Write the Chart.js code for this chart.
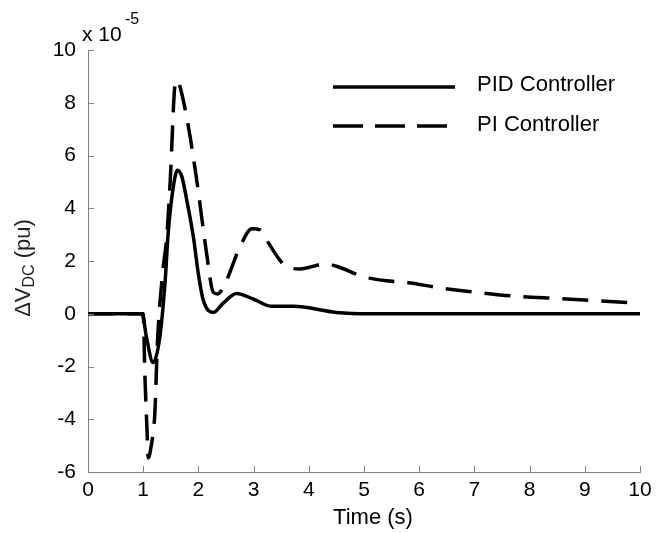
<!DOCTYPE html>
<html>
<head>
<meta charset="utf-8">
<script src="https://cdn.jsdelivr.net/npm/chart.js@4/dist/chart.umd.min.js"></script>
<style>
  html, body { margin: 0; padding: 0; background: #fff; }
  #wrap { width: 658px; height: 533px; }
</style>
</head>
<body>
<div id="wrap"><canvas id="dvChart" width="658" height="533"></canvas></div>
<script>
// values (x 1e-5 pu)
var pidTime = [0, 0.98, 1.06, 1.18, 1.30, 1.40, 1.45, 1.55, 1.62, 1.70, 1.79, 1.91, 2.00, 2.09, 2.27, 2.45, 2.69, 3.00, 3.33, 3.72, 4.50, 5.10, 5.80, 10];
var pidValue = [0, 0, -0.9, -1.85, -0.9, 1.3, 3.0, 4.87, 5.44, 5.2, 4.3, 2.9, 1.5, 0.5, 0.05, 0.4, 0.77, 0.55, 0.28, 0.28, 0.05, 0, 0, 0];

var piTime = [0, 1.00, 1.03, 1.07, 1.09, 1.15, 1.21, 1.26, 1.35, 1.43, 1.49, 1.58, 1.62, 1.68, 1.82, 1.97, 2.15, 2.27, 2.35, 2.48, 2.75, 2.97, 3.12, 3.24, 3.57, 3.84, 4.30, 4.50, 4.99, 5.41, 5.77, 6.38, 7.22, 7.83, 8.49, 9.28, 10];
var piValue = [0, 0, -2.3, -4.45, -5.46, -4.95, -3.8, -1.0, 1.5, 3.0, 5.06, 8.73, 8.86, 8.5, 7.08, 5.06, 2.27, 0.81, 0.75, 1.13, 2.52, 3.22, 3.18, 2.78, 1.83, 1.7, 1.89, 1.8, 1.41, 1.25, 1.19, 0.98, 0.77, 0.65, 0.58, 0.49, 0.4];

var seriesNames = ['PID Controller', 'PI Controller'];
var xTicks = [0, 1, 2, 3, 4, 5, 6, 7, 8, 9, 10];
var yTicks = [-6, -4, -2, 0, 2, 4, 6, 8, 10];

var FONT = '"Liberation Sans", Arial, sans-serif';
var AXIS_GREY = '#808080';
var PI_DASH = [26, 13];

function toPoints(xs, ys) {
    return xs.map(function (x, i) { return { x: x, y: ys[i] }; });
}

// inward tick marks, exponent, axis titles and legend
var decorations = {
    id: 'decorations',
    afterDraw: function (chart) {
        var ctx = chart.ctx;
        var xs = chart.scales.x;
        var ys = chart.scales.y;
        var area = chart.chartArea;

        ctx.save();
        ctx.strokeStyle = AXIS_GREY;
        ctx.lineWidth = 1;
        ctx.beginPath();
        xTicks.forEach(function (v) {
            var px = Math.round(xs.getPixelForValue(v)) + 0.5;
            ctx.moveTo(px, area.bottom);
            ctx.lineTo(px, area.bottom - 6);
        });
        yTicks.forEach(function (v) {
            var py = Math.round(ys.getPixelForValue(v)) + 0.5;
            ctx.moveTo(area.left, py);
            ctx.lineTo(area.left + 6, py);
        });
        ctx.stroke();

        // exponent
        ctx.fillStyle = '#000';
        ctx.textBaseline = 'alphabetic';
        ctx.textAlign = 'left';
        ctx.font = '21px ' + FONT;
        ctx.fillText('x 10', 82, 41);
        ctx.font = '16px ' + FONT;
        ctx.fillText('-5', 125, 24);

        // x title (sits a little right of centre in the original)
        ctx.font = '22px ' + FONT;
        ctx.textAlign = 'center';
        ctx.textBaseline = 'middle';
        ctx.fillText('Time (s)', 373, 518);

        // y title with subscript
        ctx.textAlign = 'left';
        ctx.textBaseline = 'alphabetic';
        ctx.translate(30, 268);
        ctx.rotate(-Math.PI / 2);
        ctx.fillStyle = '#222';
        var big = '22px ' + FONT;
        var small = '16px ' + FONT;
        ctx.font = big;
        var w1 = ctx.measureText('\u0394V').width;
        var w3 = ctx.measureText(' (pu)').width;
        ctx.font = small;
        var w2 = ctx.measureText('DC').width;
        var x0 = -(w1 + w2 + w3) / 2;
        ctx.font = big;
        ctx.fillText('\u0394V', x0, 0);
        ctx.font = small;
        ctx.fillText('DC', x0 + w1, 4);
        ctx.font = big;
        ctx.fillText(' (pu)', x0 + w1 + w2, 0);
        ctx.restore();

        // legend
        ctx.save();
        ctx.strokeStyle = '#000';
        ctx.lineWidth = 3.5;
        ctx.beginPath();
        ctx.moveTo(333, 87);
        ctx.lineTo(455, 87);
        ctx.stroke();
        ctx.setLineDash([30, 12]);
        ctx.beginPath();
        ctx.moveTo(333, 126);
        ctx.lineTo(455, 126);
        ctx.stroke();
        ctx.fillStyle = '#000';
        ctx.font = '22px ' + FONT;
        ctx.textBaseline = 'middle';
        ctx.fillText(seriesNames[0], 477, 85);
        ctx.fillText(seriesNames[1], 477, 125);
        ctx.restore();
    }
};

new Chart(document.getElementById('dvChart'), {
    type: 'line',
    data: {
        datasets: [{
            label: seriesNames[0],
            data: toPoints(pidTime, pidValue),
            borderColor: '#000',
            borderWidth: 3.5,
            pointRadius: 0,
            fill: false,
            cubicInterpolationMode: 'monotone'
        }, {
            label: seriesNames[1],
            data: toPoints(piTime, piValue),
            borderColor: '#000',
            borderWidth: 3.5,
            borderDash: PI_DASH,
            pointRadius: 0,
            fill: false,
            cubicInterpolationMode: 'monotone'
        }]
    },
    options: {
        responsive: false,
        animation: false,
        layout: { padding: { top: 50, right: 18, left: 0, bottom: 0 } },
        plugins: {
            legend: { display: false },
            tooltip: { enabled: false }
        },
        scales: {
            x: {
                type: 'linear',
                min: 0,
                max: 10,
                afterFit: function (s) { s.height = 61; },
                afterBuildTicks: function (s) {
                    s.ticks = xTicks.map(function (v) { return { value: v }; });
                },
                grid: { display: false, drawTicks: false },
                border: { display: true, color: AXIS_GREY, width: 1 },
                ticks: {
                    padding: 6,
                    color: '#000',
                    maxRotation: 0,
                    autoSkip: false,
                    font: { family: FONT, size: 21 }
                }
            },
            y: {
                type: 'linear',
                min: -6,
                max: 10,
                afterFit: function (s) { s.width = 88; },
                afterBuildTicks: function (s) {
                    s.ticks = yTicks.map(function (v) { return { value: v }; });
                },
                grid: { display: false, drawTicks: false },
                border: { display: true, color: AXIS_GREY, width: 1 },
                ticks: {
                    padding: 12,
                    color: '#000',
                    autoSkip: false,
                    font: { family: FONT, size: 21 }
                }
            }
        }
    },
    plugins: [decorations]
});
</script>
</body>
</html>
